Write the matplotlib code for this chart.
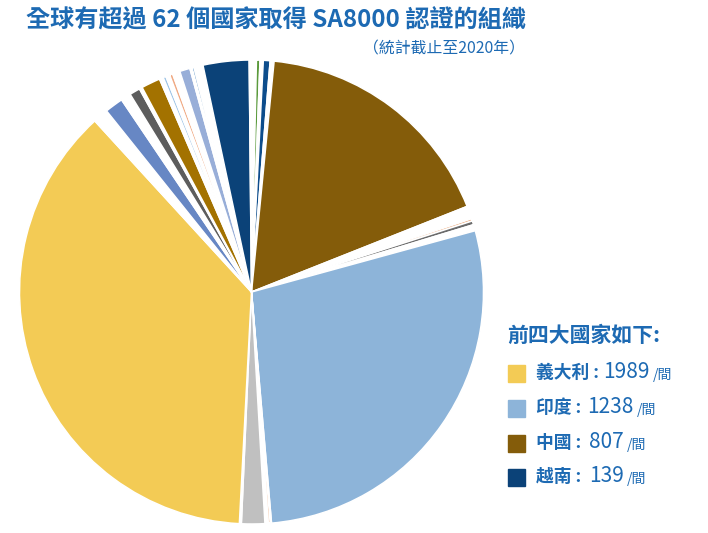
import matplotlib.pyplot as plt

# -------------------------
# Data (clockwise from 12 o'clock)
# white entries are the gaps of tiny countries shown as blank wedges
# -------------------------
slice_values = [15, 11, 10, 21, 12, 774, 40, 7, 12, 19, 1238, 4, 6, 10,
                72, 6, 1659, 47, 57, 31, 33, 9, 59, 12, 9, 12, 10, 23,
                32, 7, 6, 28, 142, 7]
slice_colors = ["white", "#5b9a3c", "white", "#0d4d8c", "white", "#845c0a",
                "white", "#eaa576", "#6b6b6b", "white", "#8db4d9", "white",
                "#eaa576", "white", "#c0c0c0", "white", "#f3cb55", "white",
                "#6787c4", "white", "#5d5d5d", "white", "#a37200", "white",
                "#9cc3e6", "white", "#f0aa84", "white", "#98aed8", "white",
                "#2e75b6", "white", "#0b4278", "white"]

top_countries = ["義大利", "印度", "中國", "越南"]
top_counts = ["1989", "1238", "807", "139"]
top_colors = ["#f3cb55", "#8db4d9", "#845c0a", "#0b4278"]

title = "全球有超過 62 個國家取得 SA8000 認證的組織"
subtitle = "（統計截止至2020年）"
legend_title = "前四大國家如下:"

BLUE = "#1d6ab3"
W, H = 708, 533

plt.rcParams["font.family"] = ["Noto Sans CJK TC", "DejaVu Sans"]

fig = plt.figure(figsize=(W / 100, H / 100), dpi=100)


def px(x, y):
    """pixel coords (from top-left) -> figure fraction"""
    return x / W, 1 - y / H


# -------------------------
# Pie
# -------------------------
cx, cy, r = 251.5, 292, 232
ax = fig.add_axes([(cx - r) / W, 1 - (cy + r) / H, 2 * r / W, 2 * r / H])
ax.pie(slice_values, colors=slice_colors, startangle=90, counterclock=False,
       radius=1, wedgeprops=dict(edgecolor="white", linewidth=1.1))
ax.set_xlim(-1, 1)
ax.set_ylim(-1, 1)
ax.set_aspect("equal")
ax.axis("off")

# -------------------------
# Titles
# -------------------------
fig.text(*px(26, 20), title, color=BLUE, fontsize=17.4, fontweight="bold",
         ha="left", va="center")
fig.text(*px(525, 49), subtitle, color=BLUE, fontsize=11.4,
         ha="right", va="center")

# -------------------------
# Legend (drawn by hand)
# -------------------------
fig.text(*px(507, 335), legend_title, color=BLUE, fontsize=15,
         fontweight="bold", ha="left", va="center")

row_y = [373, 408, 443, 477]
num_x = [603, 587, 589, 589]
for name, cnt, col, y, nx in zip(top_countries, top_counts, top_colors,
                                 row_y, num_x):
    sq = 17
    x0, y0 = px(508, y + sq / 2)
    fig.patches.append(plt.Rectangle((x0, y0), sq / W, sq / H, color=col,
                                     transform=fig.transFigure))
    fig.text(*px(536, y), name + " :", color=BLUE, fontsize=12.8,
             fontweight="bold", ha="left", va="center")
    t = fig.text(*px(nx, y - 1), cnt, color=BLUE, fontsize=15,
                 ha="left", va="center")
    fig.canvas.draw()
    bb = t.get_window_extent()
    fig.text((bb.x1 + 3) / W, px(0, y + 2)[1], "/間", color=BLUE,
             fontsize=10, ha="left", va="center")

fig.savefig("out.png", dpi=100)
